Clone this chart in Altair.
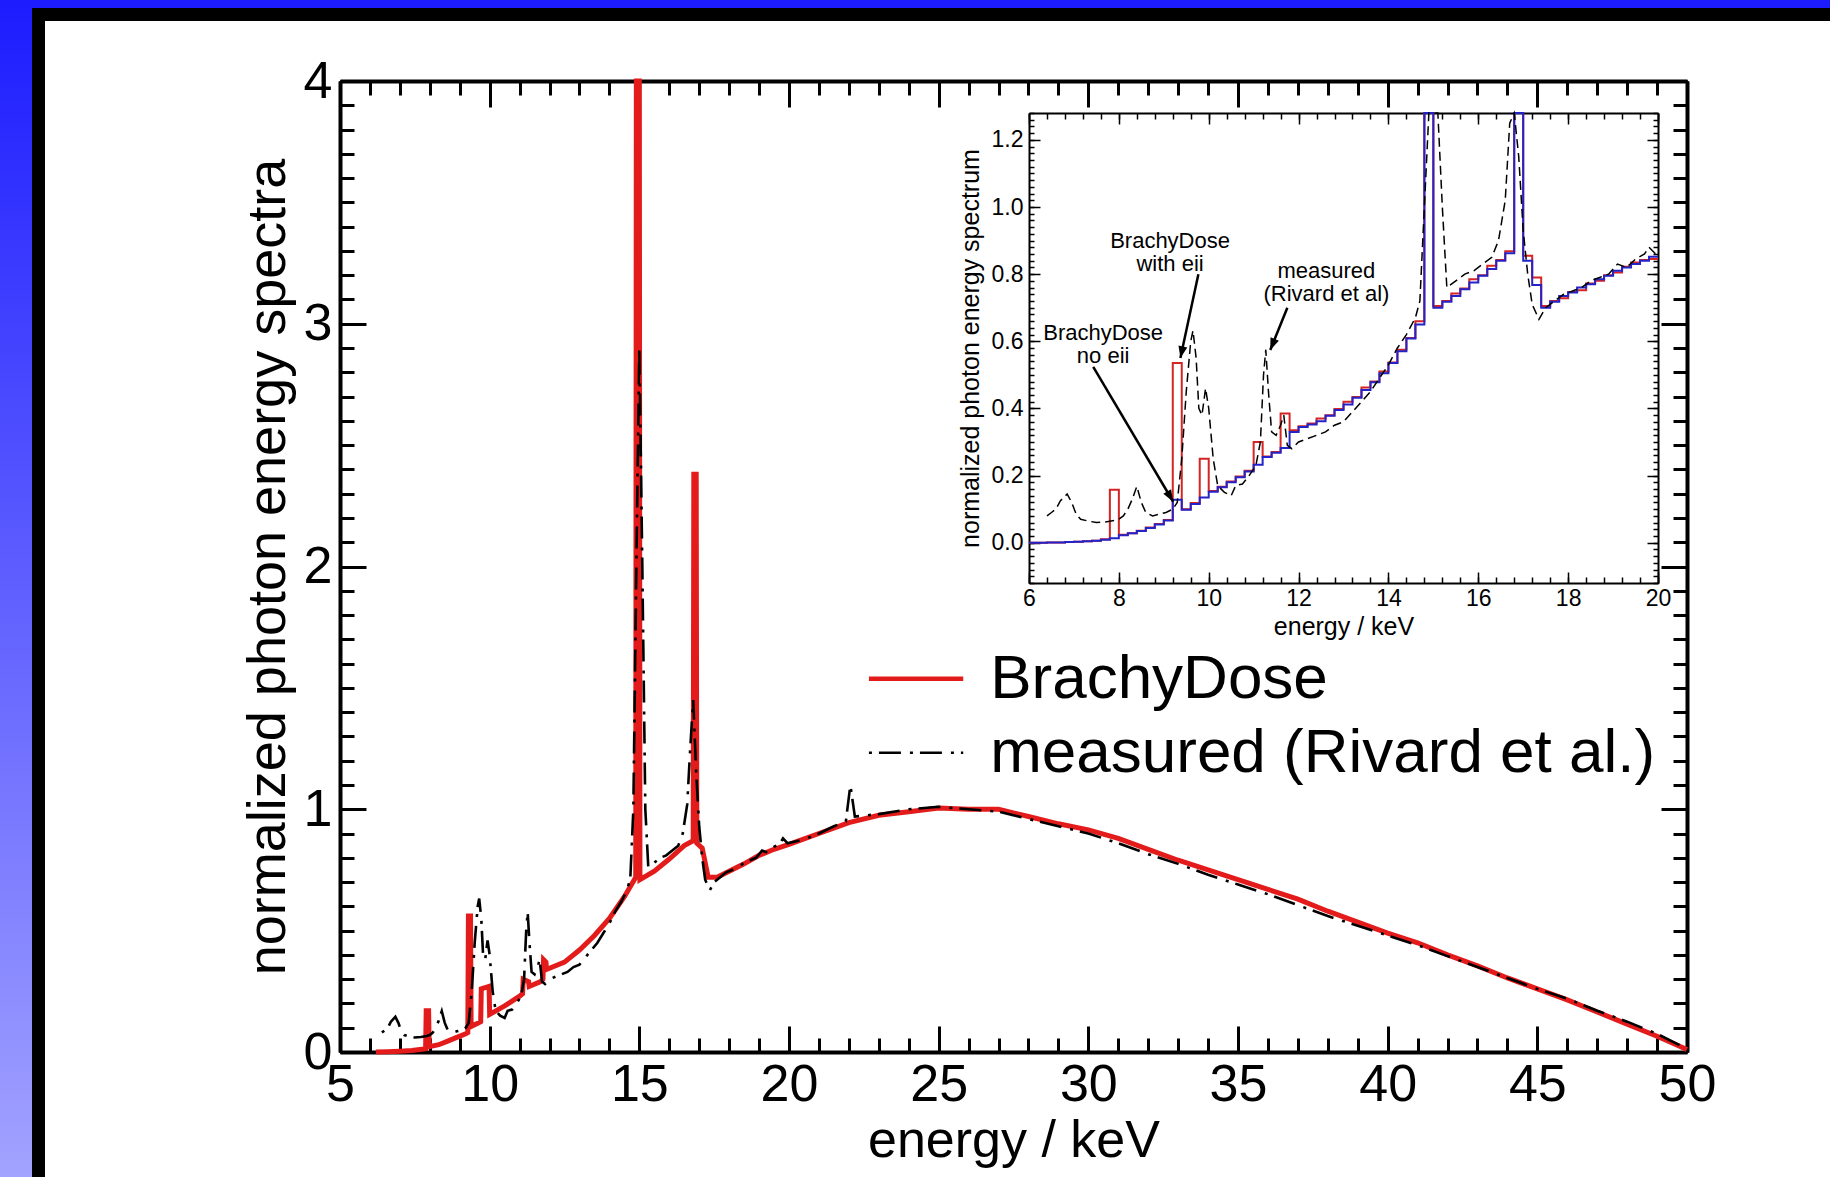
import altair as alt
import numpy as np
import pandas as pd

FONT = "Liberation Sans"

# ------------------------------------------------------------------ data
# BrachyDose spectrum (main panel): energy / keV, normalized value
bd_E = [6.2, 6.6, 7.0, 7.4, 7.8, 7.86, 7.88, 7.96, 7.98, 8.3, 8.6, 8.9, 9.2, 9.27, 9.29, 9.36,
        9.38, 9.6, 9.7, 9.72, 9.98, 10.0, 10.5, 11.0, 11.1, 11.12, 11.3, 11.32, 11.7, 11.78,
        11.8, 11.88, 11.9, 12.5, 13.0, 13.5, 14.0, 14.5, 14.88, 14.9, 15.0, 15.02, 15.5, 16.0,
        16.5, 16.8, 16.82, 16.9, 16.92, 17.1, 17.3, 17.6, 18.0, 18.5, 19.0, 19.5, 20.0, 21, 22,
        23, 24, 25, 26, 27, 28, 29, 30, 31, 32, 33, 34, 35, 36, 37, 38, 39, 40, 41, 42, 43, 44,
        45, 46, 47, 48, 49, 50]
bd_v = [0.0, 0.001, 0.003, 0.006, 0.012, 0.013, 0.17, 0.17, 0.022, 0.03, 0.045, 0.06, 0.075,
        0.08, 0.56, 0.56, 0.105, 0.118, 0.125, 0.26, 0.27, 0.155, 0.19, 0.23, 0.24, 0.30, 0.29,
        0.27, 0.29, 0.30, 0.38, 0.37, 0.34, 0.37, 0.42, 0.48, 0.55, 0.64, 0.72, 5.0, 5.0, 0.71,
        0.745, 0.795, 0.85, 0.87, 2.38, 2.38, 0.86, 0.84, 0.72, 0.72, 0.745, 0.775, 0.81, 0.835,
        0.855, 0.90, 0.945, 0.975, 0.99, 1.005, 1.0, 1.0, 0.97, 0.94, 0.915, 0.88, 0.835, 0.79,
        0.75, 0.71, 0.67, 0.63, 0.58, 0.535, 0.49, 0.45, 0.40, 0.355, 0.305, 0.26, 0.215, 0.165,
        0.115, 0.065, 0.01]

# measured spectrum (Rivard et al.)
meas_E = [6.40, 6.50, 6.60, 6.70, 6.85, 6.95, 7.05, 7.15, 7.30, 7.50, 7.70, 7.90, 8.00, 8.10,
          8.20, 8.30, 8.40, 8.50, 8.60, 8.75, 8.90, 9.05, 9.20, 9.30, 9.40, 9.50, 9.60, 9.65,
          9.72, 9.78, 9.85, 9.93, 10.00, 10.10, 10.20, 10.35, 10.50, 10.60, 10.75, 10.90, 11.05,
          11.15, 11.22, 11.27, 11.33, 11.40, 11.50, 11.60, 11.67, 11.75, 11.85, 12.00, 12.20,
          12.40, 12.60, 12.80, 13.00, 13.20, 13.40, 13.60, 13.80, 14.00, 14.20, 14.40, 14.60,
          14.70, 14.80, 14.90, 15.00, 15.10, 15.20, 15.30, 15.50, 15.70, 15.90, 16.10, 16.30,
          16.45, 16.60, 16.70, 16.80, 16.90, 17.00, 17.10, 17.20, 17.35, 17.50, 17.70, 17.90,
          18.10, 18.30, 18.50, 18.70, 18.90, 19.10, 19.30, 19.50, 19.70, 19.80, 19.95, 20.50,
          21.00, 21.50, 21.90, 22.05, 22.20, 23.00, 24.00, 25.00, 26.00, 27.00, 28.00, 29.00,
          30.00, 31.00, 32.00, 33.00, 34.00, 35.00, 36.00, 37.00, 38.00, 39.00, 40.00, 41.00,
          42.00, 43.00, 44.00, 45.00, 46.00, 47.00, 48.00, 49.00, 49.80, 50.00]
meas_v = [0.080, 0.090, 0.100, 0.125, 0.145, 0.120, 0.085, 0.070, 0.065, 0.060, 0.062, 0.066,
          0.070, 0.080, 0.100, 0.130, 0.168, 0.120, 0.090, 0.080, 0.085, 0.090, 0.100, 0.120,
          0.250, 0.450, 0.600, 0.632, 0.550, 0.400, 0.380, 0.460, 0.400, 0.250, 0.170, 0.150,
          0.140, 0.170, 0.175, 0.200, 0.230, 0.300, 0.500, 0.575, 0.450, 0.330, 0.320, 0.350,
          0.380, 0.290, 0.280, 0.300, 0.310, 0.320, 0.330, 0.350, 0.360, 0.390, 0.420, 0.450,
          0.490, 0.530, 0.580, 0.620, 0.670, 0.720, 1.000, 2.000, 2.900, 2.000, 1.000, 0.760,
          0.780, 0.800, 0.810, 0.830, 0.850, 0.900, 1.020, 1.250, 1.450, 1.150, 0.930, 0.800,
          0.710, 0.665, 0.700, 0.720, 0.740, 0.750, 0.760, 0.780, 0.790, 0.800, 0.830, 0.820,
          0.845, 0.860, 0.880, 0.860, 0.875, 0.900, 0.930, 0.950, 1.100, 0.970, 0.980, 1.000,
          1.010, 1.000, 0.990, 0.960, 0.930, 0.900, 0.860, 0.815, 0.775, 0.730, 0.690, 0.650,
          0.605, 0.560, 0.520, 0.480, 0.440, 0.395, 0.350, 0.305, 0.260, 0.220, 0.170, 0.125,
          0.075, 0.025, 0.005]

# inset histograms: left bin edges (keV)
bin_lo = [6.0, 6.2, 6.4, 6.6, 6.8, 7.0, 7.2, 7.4, 7.6, 7.8, 8.0, 8.2, 8.4, 8.6, 8.8, 9.0, 9.2,
          9.4, 9.6, 9.8, 10.0, 10.2, 10.4, 10.6, 10.8, 11.0, 11.2, 11.4, 11.6, 11.8, 12.0, 12.2,
          12.4, 12.6, 12.8, 13.0, 13.2, 13.4, 13.6, 13.8, 14.0, 14.2, 14.4, 14.6, 14.8, 15.0,
          15.2, 15.4, 15.6, 15.8, 16.0, 16.2, 16.4, 16.6, 16.8, 17.0, 17.2, 17.4, 17.6, 17.8,
          18.0, 18.2, 18.4, 18.6, 18.8, 19.0, 19.2, 19.4, 19.6, 19.8]
# BrachyDose with eii (red)
hist_eii = [0.000, 0.000, 0.001, 0.001, 0.002, 0.003, 0.004, 0.006, 0.010, 0.158, 0.024, 0.028,
            0.036, 0.045, 0.056, 0.068, 0.535, 0.100, 0.118, 0.250, 0.154, 0.167, 0.182, 0.197,
            0.214, 0.300, 0.257, 0.270, 0.385, 0.335, 0.347, 0.355, 0.370, 0.380, 0.398, 0.420,
            0.434, 0.462, 0.480, 0.510, 0.537, 0.575, 0.610, 0.660, 6.000, 0.705, 0.720, 0.742,
            0.757, 0.785, 0.797, 0.825, 0.842, 0.868, 2.400, 0.855, 0.790, 0.705, 0.720, 0.728,
            0.747, 0.752, 0.772, 0.780, 0.797, 0.805, 0.822, 0.835, 0.842, 0.845]
# BrachyDose no eii (blue)
hist_noeii = [0.000, 0.000, 0.001, 0.001, 0.002, 0.003, 0.004, 0.006, 0.009, 0.013, 0.022,
              0.028, 0.035, 0.044, 0.054, 0.066, 0.128, 0.098, 0.115, 0.135, 0.152, 0.165,
              0.180, 0.195, 0.212, 0.232, 0.255, 0.268, 0.282, 0.330, 0.345, 0.352, 0.362,
              0.378, 0.395, 0.412, 0.432, 0.455, 0.478, 0.505, 0.535, 0.570, 0.608, 0.650,
              6.000, 0.700, 0.718, 0.735, 0.755, 0.775, 0.795, 0.815, 0.840, 0.862, 2.400,
              0.840, 0.768, 0.700, 0.718, 0.735, 0.745, 0.760, 0.770, 0.785, 0.795, 0.810,
              0.820, 0.830, 0.840, 0.852]

legend_labels = ["BrachyDose", "measured (Rivard et al.)"]
note_labels = ["BrachyDose\nwith eii", "measured\n(Rivard et al)", "BrachyDose\nno eii"]

# ------------------------------------------------------------------ layout
TOTAL_W, TOTAL_H = 1830, 1177
PAD_L, PAD_T = 340, 81
W, H = 1347, 971
IX0, IX1 = 689, 1318          # inset x range inside plot area
IY0, IY1 = 502, 32            # inset y range (bottom, top)

# legend geometry (main-panel data units)
LEG_X1, LEG_X2, LEG_TX = 22.67, 25.82, 26.72
LEG_Y = [1.538, 1.233]
# annotation anchors (inset data units)
NOTE_X = [9.14, 12.62, 7.65]
NOTE_Y = [0.878, 0.789, 0.604]
ARR_X1 = [9.77, 11.75, 7.43]
ARR_Y1 = [0.80, 0.70, 0.524]
ARR_X2 = [9.37, 11.37, 9.21]
ARR_Y2 = [0.55, 0.574, 0.122]

RED_MAIN = "#e41b1b"
RED_IN = "#d42424"
BLUE_IN = "#2323c8"

SC_MX = alt.Scale(domain=[5, 50], range=[0, W], nice=False, zero=False)
SC_MY = alt.Scale(domain=[0, 4], range=[H, 0], nice=False, zero=False, clamp=True)
SC_IX = alt.Scale(domain=[6, 20], range=[IX0, IX1], nice=False, zero=False)
SC_IY = alt.Scale(domain=[-0.12, 1.28], range=[IY0, IY1], nice=False, zero=False, clamp=True)

MX_MAJ = list(range(5, 51, 5))
MX_MIN = list(range(5, 51, 1))
MY_MAJ = [0, 1, 2, 3, 4]
MY_MIN = [round(0.1 * i, 2) for i in range(41)]
IX_MAJ = list(range(6, 21, 2))
IX_MIN = [round(6 + 0.4 * i, 2) for i in range(36)]
IY_MAJ = [0.0, 0.2, 0.4, 0.6, 0.8, 1.0, 1.2]
IY_MIN = [round(-0.12 + 0.02 * i, 2) for i in range(71)]


def ticks_axis(orient, offset, values, size, width, domain=False, dwidth=1):
    return alt.Axis(orient=orient, offset=offset, values=values, tickSize=size,
                    tickWidth=width, ticks=True, labels=False, grid=False, title="",
                    domain=domain, domainWidth=dwidth, domainColor="black", tickColor="black")


# main-panel axes
AX_MB_LAB = alt.Axis(orient="bottom", values=MX_MAJ, format="d", labelFontSize=52,
                     labelPadding=7, labelFlush=False, labelOverlap=False, ticks=False,
                     tickSize=0, domain=True, domainWidth=4, grid=False,
                     title="energy / keV", titleFontSize=52, titleX=W / 2, titleY=104,
                     titleAlign="center", titleBaseline="alphabetic", titleAngle=0)
AX_ML_LAB = alt.Axis(orient="left", values=MY_MAJ, format="d", labelFontSize=52,
                     labelPadding=8, labelFlush=False, labelOverlap=False, ticks=False,
                     tickSize=0, domain=True, domainWidth=4, grid=False,
                     title="normalized photon energy spectra", titleFontSize=54, titleX=-56,
                     titleY=H / 2, titleAngle=270, titleAlign="center",
                     titleBaseline="alphabetic")
AX_MB_MAJ = ticks_axis("top", -H, MX_MAJ, 26, 3)
AX_MB_MIN = ticks_axis("top", -H, MX_MIN, 14, 3)
AX_ML_MAJ = ticks_axis("right", -W, MY_MAJ, 26, 3)
AX_ML_MIN = ticks_axis("right", -W, MY_MIN, 14, 3)
AX_MT_MAJ = ticks_axis("bottom", -H, MX_MAJ, 26, 3, True, 4)
AX_MT_MIN = ticks_axis("bottom", -H, MX_MIN, 14, 3)
AX_MR_MAJ = ticks_axis("left", -W, MY_MAJ, 26, 3, True, 4)
AX_MR_MIN = ticks_axis("left", -W, MY_MIN, 14, 3)

# inset axes
AX_IB_LAB = alt.Axis(orient="bottom", offset=IY0 - H, values=IX_MAJ, format="d",
                     labelFontSize=23, labelPadding=4, labelFlush=False, labelOverlap=False,
                     ticks=False, tickSize=0, domain=True, domainWidth=2, grid=False,
                     title="energy / keV", titleFontSize=25, titleX=(IX0 + IX1) / 2,
                     titleY=51, titleAlign="center", titleBaseline="alphabetic", titleAngle=0)
AX_IL_LAB = alt.Axis(orient="left", offset=-IX0, values=IY_MAJ, format=".1f",
                     labelFontSize=23, labelPadding=6, labelFlush=False, labelOverlap=False,
                     ticks=False, tickSize=0, domain=True, domainWidth=2, grid=False,
                     title="normalized photon energy spectrum", titleFontSize=25, titleX=-51,
                     titleY=(IY0 + IY1) / 2, titleAngle=270, titleAlign="center",
                     titleBaseline="alphabetic")
AX_IB_MAJ = ticks_axis("top", -IY0, IX_MAJ, 11, 1.5)
AX_IB_MIN = ticks_axis("top", -IY0, IX_MIN, 6, 1.5)
AX_IL_MAJ = ticks_axis("right", IX0 - W, IY_MAJ, 11, 1.5)
AX_IL_MIN = ticks_axis("right", IX0 - W, IY_MIN, 5, 1.5)
AX_IT_MAJ = ticks_axis("bottom", IY1 - H, IX_MAJ, 11, 1.5, True, 2)
AX_IT_MIN = ticks_axis("bottom", IY1 - H, IX_MIN, 6, 1.5)
AX_IR_MAJ = ticks_axis("left", -IX1, IY_MAJ, 11, 1.5, True, 2)
AX_IR_MIN = ticks_axis("left", -IX1, IY_MIN, 5, 1.5)

# ------------------------------------------------------------------ frames
df_bd = pd.DataFrame({"E": bd_E, "v": bd_v})
df_meas = pd.DataFrame({"E": meas_E, "v": meas_v})
df_meas_in = df_meas[df_meas["E"] <= 20.0]
df_eii = pd.DataFrame({"E": bin_lo + [20.0], "v": hist_eii + [hist_eii[-1]]})
df_noeii = pd.DataFrame({"E": bin_lo + [20.0], "v": hist_noeii + [hist_noeii[-1]]})
df_leg = pd.DataFrame({"label": legend_labels, "x1": [LEG_X1] * 2, "x2": [LEG_X2] * 2,
                       "tx": [LEG_TX] * 2, "y": LEG_Y})
df_notes = pd.DataFrame({"label": note_labels, "x": NOTE_X, "y": NOTE_Y})

sx = (IX1 - IX0) / 14.0
sy = (IY0 - IY1) / 1.40
dxp = (np.array(ARR_X2) - np.array(ARR_X1)) * sx
dyp = -(np.array(ARR_Y2) - np.array(ARR_Y1)) * sy
ang = (np.degrees(np.arctan2(dxp, -dyp)) + 360.0) % 360.0
df_arr = pd.DataFrame({"x1": ARR_X1, "y1": ARR_Y1, "x2": ARR_X2, "y2": ARR_Y2, "ang": ang})

deco = pd.DataFrame({"k": [0]})

# ------------------------------------------------------------------ layers
blue_grad = alt.LinearGradient(
    gradient="linear",
    stops=[alt.GradientStop(color="#1c1cff", offset=0),
           alt.GradientStop(color="#a2a2ff", offset=1)],
    x1=0, x2=0, y1=0, y2=1)

strip_left = alt.Chart(deco).mark_rect(color=blue_grad).encode(
    x=alt.value(-PAD_L), x2=alt.value(32 - PAD_L),
    y=alt.value(-PAD_T), y2=alt.value(TOTAL_H - PAD_T))
strip_top = alt.Chart(deco).mark_rect(color="#1c1cff").encode(
    x=alt.value(-PAD_L), x2=alt.value(TOTAL_W - PAD_L),
    y=alt.value(-PAD_T), y2=alt.value(8 - PAD_T))
band_left = alt.Chart(deco).mark_rect(color="black").encode(
    x=alt.value(32 - PAD_L), x2=alt.value(45 - PAD_L),
    y=alt.value(8 - PAD_T), y2=alt.value(TOTAL_H - PAD_T))
band_top = alt.Chart(deco).mark_rect(color="black").encode(
    x=alt.value(32 - PAD_L), x2=alt.value(TOTAL_W - PAD_L),
    y=alt.value(8 - PAD_T), y2=alt.value(21 - PAD_T))

main_red = alt.Chart(df_bd).mark_line(color=RED_MAIN, strokeWidth=5).encode(
    x=alt.X("E:Q", scale=SC_MX, axis=AX_MB_LAB),
    y=alt.Y("v:Q", scale=SC_MY, axis=AX_ML_LAB),
    order="E:Q")
main_meas = alt.Chart(df_meas).mark_line(color="black", strokeWidth=2.6,
                                         strokeDash=[3, 7, 22, 9]).encode(
    x=alt.X("E:Q", scale=SC_MX, axis=AX_MB_MAJ),
    y=alt.Y("v:Q", scale=SC_MY, axis=AX_ML_MAJ),
    order="E:Q")

leg_red = alt.Chart(df_leg.iloc[[0]]).mark_rule(color=RED_MAIN, strokeWidth=4.5).encode(
    x=alt.X("x1:Q", scale=SC_MX, axis=AX_MB_MIN), x2="x2:Q",
    y=alt.Y("y:Q", scale=SC_MY, axis=AX_ML_MIN))
leg_black = alt.Chart(df_leg.iloc[[1]]).mark_rule(color="black", strokeWidth=2.6,
                                                  strokeDash=[3, 7, 22, 9]).encode(
    x=alt.X("x1:Q", scale=SC_MX, axis=AX_MT_MIN), x2="x2:Q",
    y=alt.Y("y:Q", scale=SC_MY, axis=AX_MR_MIN))
leg_text = alt.Chart(df_leg).mark_text(font=FONT, fontSize=62, align="left",
                                       baseline="middle", color="black").encode(
    x=alt.X("tx:Q", scale=SC_MX, axis=AX_MT_MAJ),
    y=alt.Y("y:Q", scale=SC_MY, axis=AX_MR_MAJ),
    text="label:N")

in_red = alt.Chart(df_eii).mark_line(color=RED_IN, strokeWidth=2,
                                     interpolate="step-after").encode(
    x=alt.X("E:Q", scale=SC_IX, axis=AX_IB_LAB),
    y=alt.Y("v:Q", scale=SC_IY, axis=AX_IL_LAB),
    order="E:Q")
in_blue = alt.Chart(df_noeii).mark_line(color=BLUE_IN, strokeWidth=2,
                                        interpolate="step-after").encode(
    x=alt.X("E:Q", scale=SC_IX, axis=AX_IB_MAJ),
    y=alt.Y("v:Q", scale=SC_IY, axis=AX_IL_MAJ),
    order="E:Q")
in_meas = alt.Chart(df_meas_in).mark_line(color="black", strokeWidth=1.5,
                                          strokeDash=[9, 5]).encode(
    x=alt.X("E:Q", scale=SC_IX, axis=AX_IB_MIN),
    y=alt.Y("v:Q", scale=SC_IY, axis=AX_IL_MIN),
    order="E:Q")
in_notes = alt.Chart(df_notes).mark_text(font=FONT, fontSize=22, align="center",
                                         baseline="alphabetic", lineBreak="\n",
                                         lineHeight=23, color="black").encode(
    x=alt.X("x:Q", scale=SC_IX, axis=AX_IT_MAJ),
    y=alt.Y("y:Q", scale=SC_IY, axis=AX_IR_MAJ),
    text="label:N")
in_arrows = alt.Chart(df_arr).mark_rule(color="black", strokeWidth=2.5).encode(
    x=alt.X("x1:Q", scale=SC_IX, axis=AX_IT_MIN), x2="x2:Q",
    y=alt.Y("y1:Q", scale=SC_IY, axis=AX_IR_MIN), y2="y2:Q")
in_heads = alt.Chart(df_arr).mark_point(shape="M0,0L-0.38,1L0.38,1Z", filled=True,
                                        size=560, color="black", opacity=1).encode(
    x=alt.X("x2:Q", scale=SC_IX, axis=None),
    y=alt.Y("y2:Q", scale=SC_IY, axis=None),
    angle=alt.Angle("ang:Q", scale=None))

chart = alt.layer(
    strip_left, strip_top, band_left, band_top,
    main_red, main_meas, leg_red, leg_black, leg_text,
    in_red, in_blue, in_meas, in_notes, in_arrows, in_heads,
).resolve_scale(
    x="independent", y="independent"
).resolve_axis(
    x="independent", y="independent"
).properties(
    width=W, height=H,
    padding={"left": PAD_L, "top": PAD_T, "right": TOTAL_W - PAD_L - W,
             "bottom": TOTAL_H - PAD_T - H},
    autosize=alt.AutoSizeParams(type="none"),
    background="white",
).configure_view(
    stroke="transparent"
).configure_axis(
    labelFont=FONT, titleFont=FONT, labelColor="black", titleColor="black",
    titleFontWeight="normal", domainColor="black", tickColor="black", grid=False
)

chart.save("out.html", embed_options={"renderer": "svg", "actions": False})
